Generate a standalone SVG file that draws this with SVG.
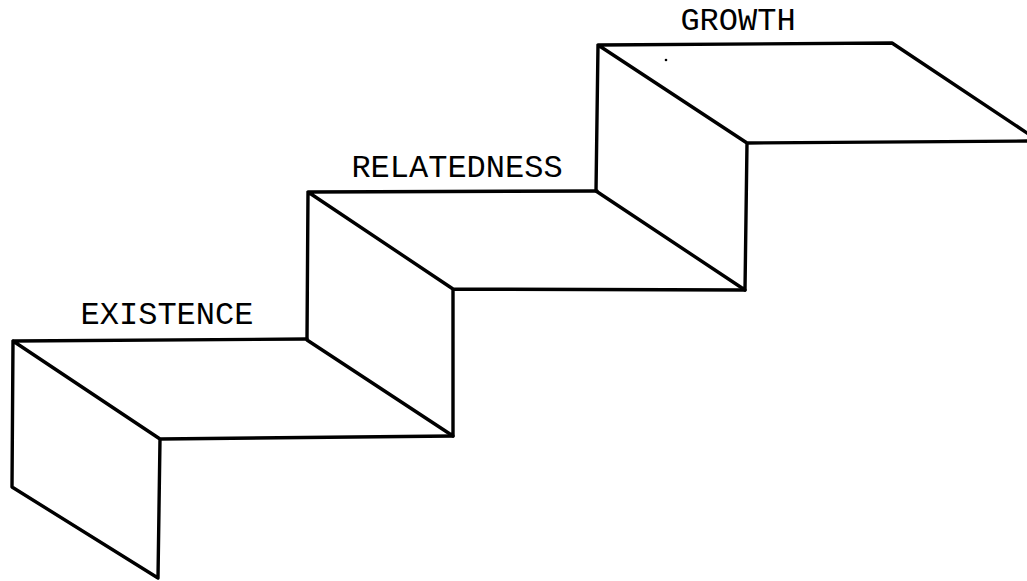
<svg xmlns="http://www.w3.org/2000/svg" width="1027" height="581" viewBox="0 0 1027 581">
<style>
.e{fill:none;stroke:#000;stroke-width:3.4;stroke-linejoin:round;stroke-linecap:round}
.t{font-family:"Liberation Mono","DejaVu Sans Mono",monospace;font-size:32px;fill:#000;text-anchor:middle}
</style>
<rect width="1027" height="581" fill="#fff"/>
<g id="connectors" class="e">
<path d="M13,341 L307,339 M13,341 L160,439 M13,341 L12,487 L158,578 L160,439 L453,436"/>
<path d="M308,192 L307,340 L453,436 L453,289 L308,192 L597,191 M453,289 L745,290"/>
<path d="M598,45 L596,191 L745,290 L747,143 L598,45 L892,43 L1030,135 M747,143 L1030,141"/>
</g>
<g id="existence"><text class="t" x="167" y="324">EXISTENCE</text></g>
<g id="relatedness"><text class="t" x="457" y="177">RELATEDNESS</text></g>
<g id="growth"><text class="t" x="738" y="30">GROWTH</text></g>
<circle cx="666" cy="60" r="1.3" fill="#000"/>
</svg>
